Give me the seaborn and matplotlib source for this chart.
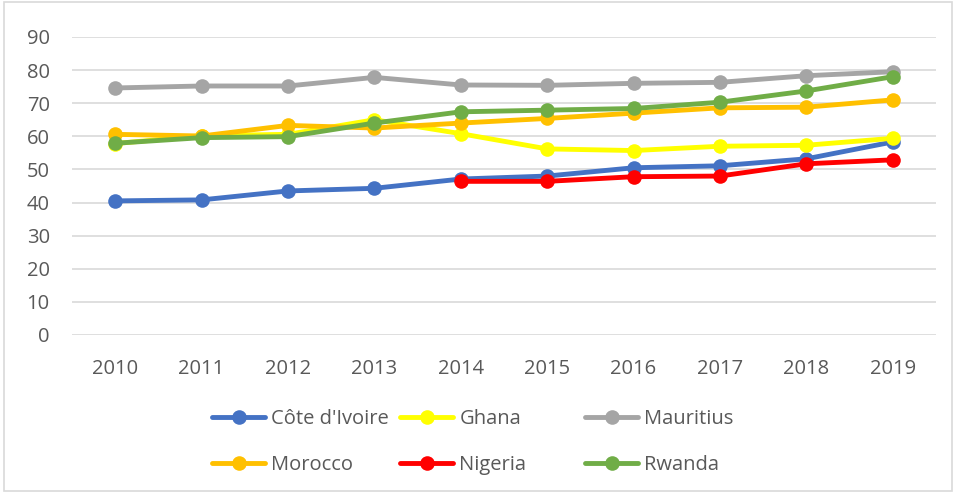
import matplotlib
matplotlib.use("Agg")
import matplotlib.pyplot as plt
import seaborn as sns
import numpy as np
from matplotlib.lines import Line2D
from matplotlib.patches import Rectangle

years = ["2010", "2011", "2012", "2013", "2014", "2015", "2016", "2017", "2018", "2019"]
cote_divoire = [40.5, 40.8, 43.5, 44.3, 47.1, 48.0, 50.5, 51.1, 53.2, 58.3]
ghana = [57.8, 60.2, 60.6, 65.0, 60.8, 56.2, 55.7, 57.0, 57.3, 59.4]
mauritius = [74.6, 75.2, 75.2, 77.8, 75.5, 75.4, 76.0, 76.3, 78.3, 79.5]
morocco = [60.6, 60.1, 63.3, 62.5, 64.0, 65.4, 67.0, 68.6, 68.8, 71.0]
nigeria = [None, None, None, None, 46.4, 46.4, 47.8, 48.0, 51.7, 52.9]
rwanda = [57.9, 59.6, 59.9, 64.0, 67.4, 67.9, 68.4, 70.3, 73.7, 78.0]

series = [
    ("Côte d'Ivoire", cote_divoire, "#4472C4"),
    ("Ghana", ghana, "#FFFF00"),
    ("Mauritius", mauritius, "#A5A5A5"),
    ("Morocco", morocco, "#FFC000"),
    ("Nigeria", nigeria, "#FF0000"),
    ("Rwanda", rwanda, "#70AD47"),
]

sns.set_theme(style="white")
plt.rcParams["font.family"] = ["Open Sans", "DejaVu Sans"]

FS = 14.5
LW = 3.5
MS = 10.5

fig = plt.figure(figsize=(9.56, 4.93), dpi=100)
ax = fig.add_axes([0.0753, 0.3205, 0.9037, 0.6045])

xs = np.arange(len(years))
handles = {}
for name, vals, color in series:
    xv = [x for x, v in zip(xs, vals) if v is not None]
    yv = [v for v in vals if v is not None]
    sns.lineplot(x=xv, y=yv, ax=ax, color=color, linewidth=LW, marker="o",
                 markersize=MS, markeredgewidth=0, legend=False)
    handles[name] = Line2D([0], [0], color=color, linewidth=LW, marker="o",
                           markersize=MS, markeredgewidth=0)

ax.set_xlim(-0.5, len(years) - 0.5)
ax.set_ylim(0, 90)
ax.set_yticks(range(0, 91, 10))
ax.set_xticks(xs)
ax.set_xticklabels(years)
ax.yaxis.grid(True, color="#D9D9D9", linewidth=1.2)
ax.set_axisbelow(True)
for s in ax.spines.values():
    s.set_visible(False)
ax.tick_params(axis="both", length=0, labelsize=FS, labelcolor="#595959")
ax.tick_params(axis="x", pad=17)
ax.tick_params(axis="y", pad=16)

columns = [
    (212, ["Côte d'Ivoire", "Morocco"]),
    (400, ["Ghana", "Nigeria"]),
    (585, ["Mauritius", "Rwanda"]),
]
for xpx, names in columns:
    leg = fig.legend([handles[n] for n in names], names, loc="center left",
                     bbox_to_anchor=(xpx / 956, 1 - 442 / 493), ncol=1, frameon=False,
                     fontsize=FS, handlelength=2.65, handletextpad=0.3,
                     borderpad=0, borderaxespad=0, labelspacing=1.3)
    for t in leg.get_texts():
        t.set_color("#595959")

fig.patches.append(Rectangle((0.004, 0.004), 0.992, 0.992, transform=fig.transFigure,
                             fill=False, edgecolor="#D9D9D9", linewidth=1.2))

fig.savefig("out.png", dpi=100)
